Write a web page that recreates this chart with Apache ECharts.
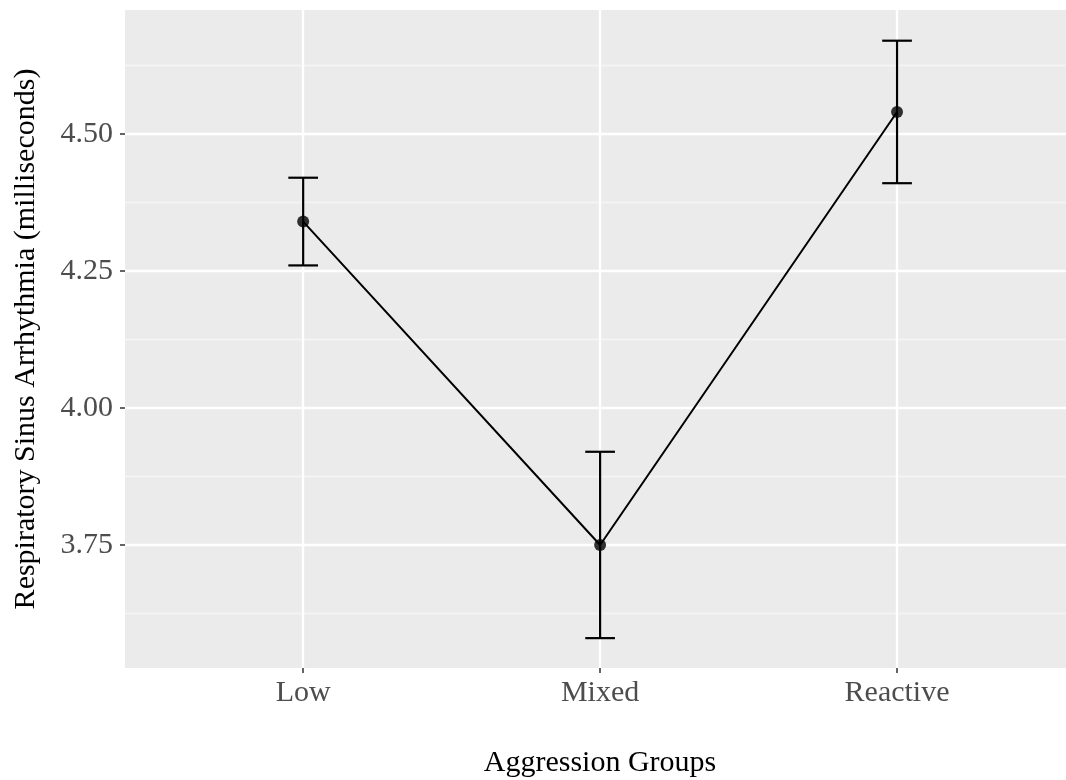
<!DOCTYPE html>
<html>
<head>
<meta charset="utf-8">
<script src="https://cdn.jsdelivr.net/npm/echarts@6/dist/echarts.min.js"></script>
<style>
html,body{margin:0;padding:0;background:#fff;}
#main{width:1066px;height:780px;}
</style>
</head>
<body>
<div id="main"></div>
<script>
const categories = ['Low', 'Mixed', 'Reactive'];
const means = [4.34, 3.75, 4.54];
const lower = [4.26, 3.58, 4.41];
const upper = [4.42, 3.92, 4.67];
const yMajorTicks = [3.75, 4.00, 4.25, 4.50];
const yMinorTicks = [3.625, 3.875, 4.125, 4.375, 4.625];
const xTicks = [0, 1, 2];
const yMin = 3.5255, yMax = 4.726;
const xMin = -0.6, xMax = 2.569;
const capWidth = 0.1;

const FONT = 'Liberation Serif';
const chart = echarts.init(document.getElementById('main'), null, {renderer: 'canvas'});

const lineData = means.map((m, i) => [i, m]);
const errData = means.map((m, i) => [i, lower[i], upper[i]]);

chart.setOption({
  animation: false,
  backgroundColor: '#ffffff',
  grid: {left: 125, right: 0, top: 10, bottom: 112, backgroundColor: '#EBEBEB', show: true, borderWidth: 0,
         containLabel: false, outerBoundsMode: 'none'},
  xAxis: {
    type: 'value', min: xMin, max: xMax,
    axisLine: {show: false, onZero: false},
    axisTick: {show: true, customValues: xTicks, length: 5, lineStyle: {color: '#333333', width: 1.5}},
    axisLabel: {customValues: xTicks, formatter: v => categories[Math.round(v)], color: '#4D4D4D', fontFamily: FONT, fontSize: 30, margin: 10},
    splitLine: {show: true, lineStyle: {color: '#ffffff', width: 2.4}},
    name: 'Aggression Groups', nameLocation: 'middle', nameGap: 80,
    nameTextStyle: {color: '#000000', fontFamily: FONT, fontSize: 30, padding: [0, 0, 0, 9]}
  },
  yAxis: [{
    type: 'value', min: yMin, max: yMax,
    axisLine: {show: false, onZero: false},
    axisTick: {show: true, customValues: yMajorTicks, length: 5, lineStyle: {color: '#333333', width: 1.5}},
    axisLabel: {customValues: yMajorTicks, formatter: v => v.toFixed(2), color: '#4D4D4D', fontFamily: FONT, fontSize: 30, margin: 12},
    splitLine: {show: true, lineStyle: {color: '#ffffff', width: 2.4}},
    name: 'Respiratory Sinus Arrhythmia (milliseconds)', nameLocation: 'middle', nameGap: 84,
    nameTextStyle: {color: '#000000', fontFamily: FONT, fontSize: 30}
  }, {
    type: 'value', min: yMin, max: yMax, position: 'left',
    axisLine: {show: false, onZero: false},
    axisTick: {show: false, customValues: yMinorTicks},
    axisLabel: {show: false, customValues: yMinorTicks},
    splitLine: {show: true, lineStyle: {color: '#F5F5F5', width: 1.3}}
  }],
  series: [{
    type: 'line', data: lineData, yAxisIndex: 0,
    lineStyle: {color: '#000000', width: 2},
    itemStyle: {color: '#000000'},
    symbol: 'none', z: 2
  }, {
    type: 'custom', yAxisIndex: 0, data: errData, z: 3,
    renderItem: function (params, api) {
      const x = api.value(0), lo = api.value(1), hi = api.value(2);
      const pLo = api.coord([x, lo]);
      const pHi = api.coord([x, hi]);
      const l = api.coord([x - capWidth / 2, lo])[0];
      const r = api.coord([x + capWidth / 2, lo])[0];
      const st = {stroke: '#000000', lineWidth: 2.2};
      return {type: 'group', children: [
        {type: 'line', shape: {x1: pLo[0], y1: pLo[1], x2: pHi[0], y2: pHi[1]}, style: st},
        {type: 'line', shape: {x1: l, y1: pLo[1], x2: r, y2: pLo[1]}, style: st},
        {type: 'line', shape: {x1: l, y1: pHi[1], x2: r, y2: pHi[1]}, style: st}
      ]};
    }
  }, {
    type: 'scatter', data: lineData, yAxisIndex: 0, z: 4,
    symbol: 'circle', symbolSize: 12,
    itemStyle: {color: '#000000'}
  }]
});
</script>
</body>
</html>
